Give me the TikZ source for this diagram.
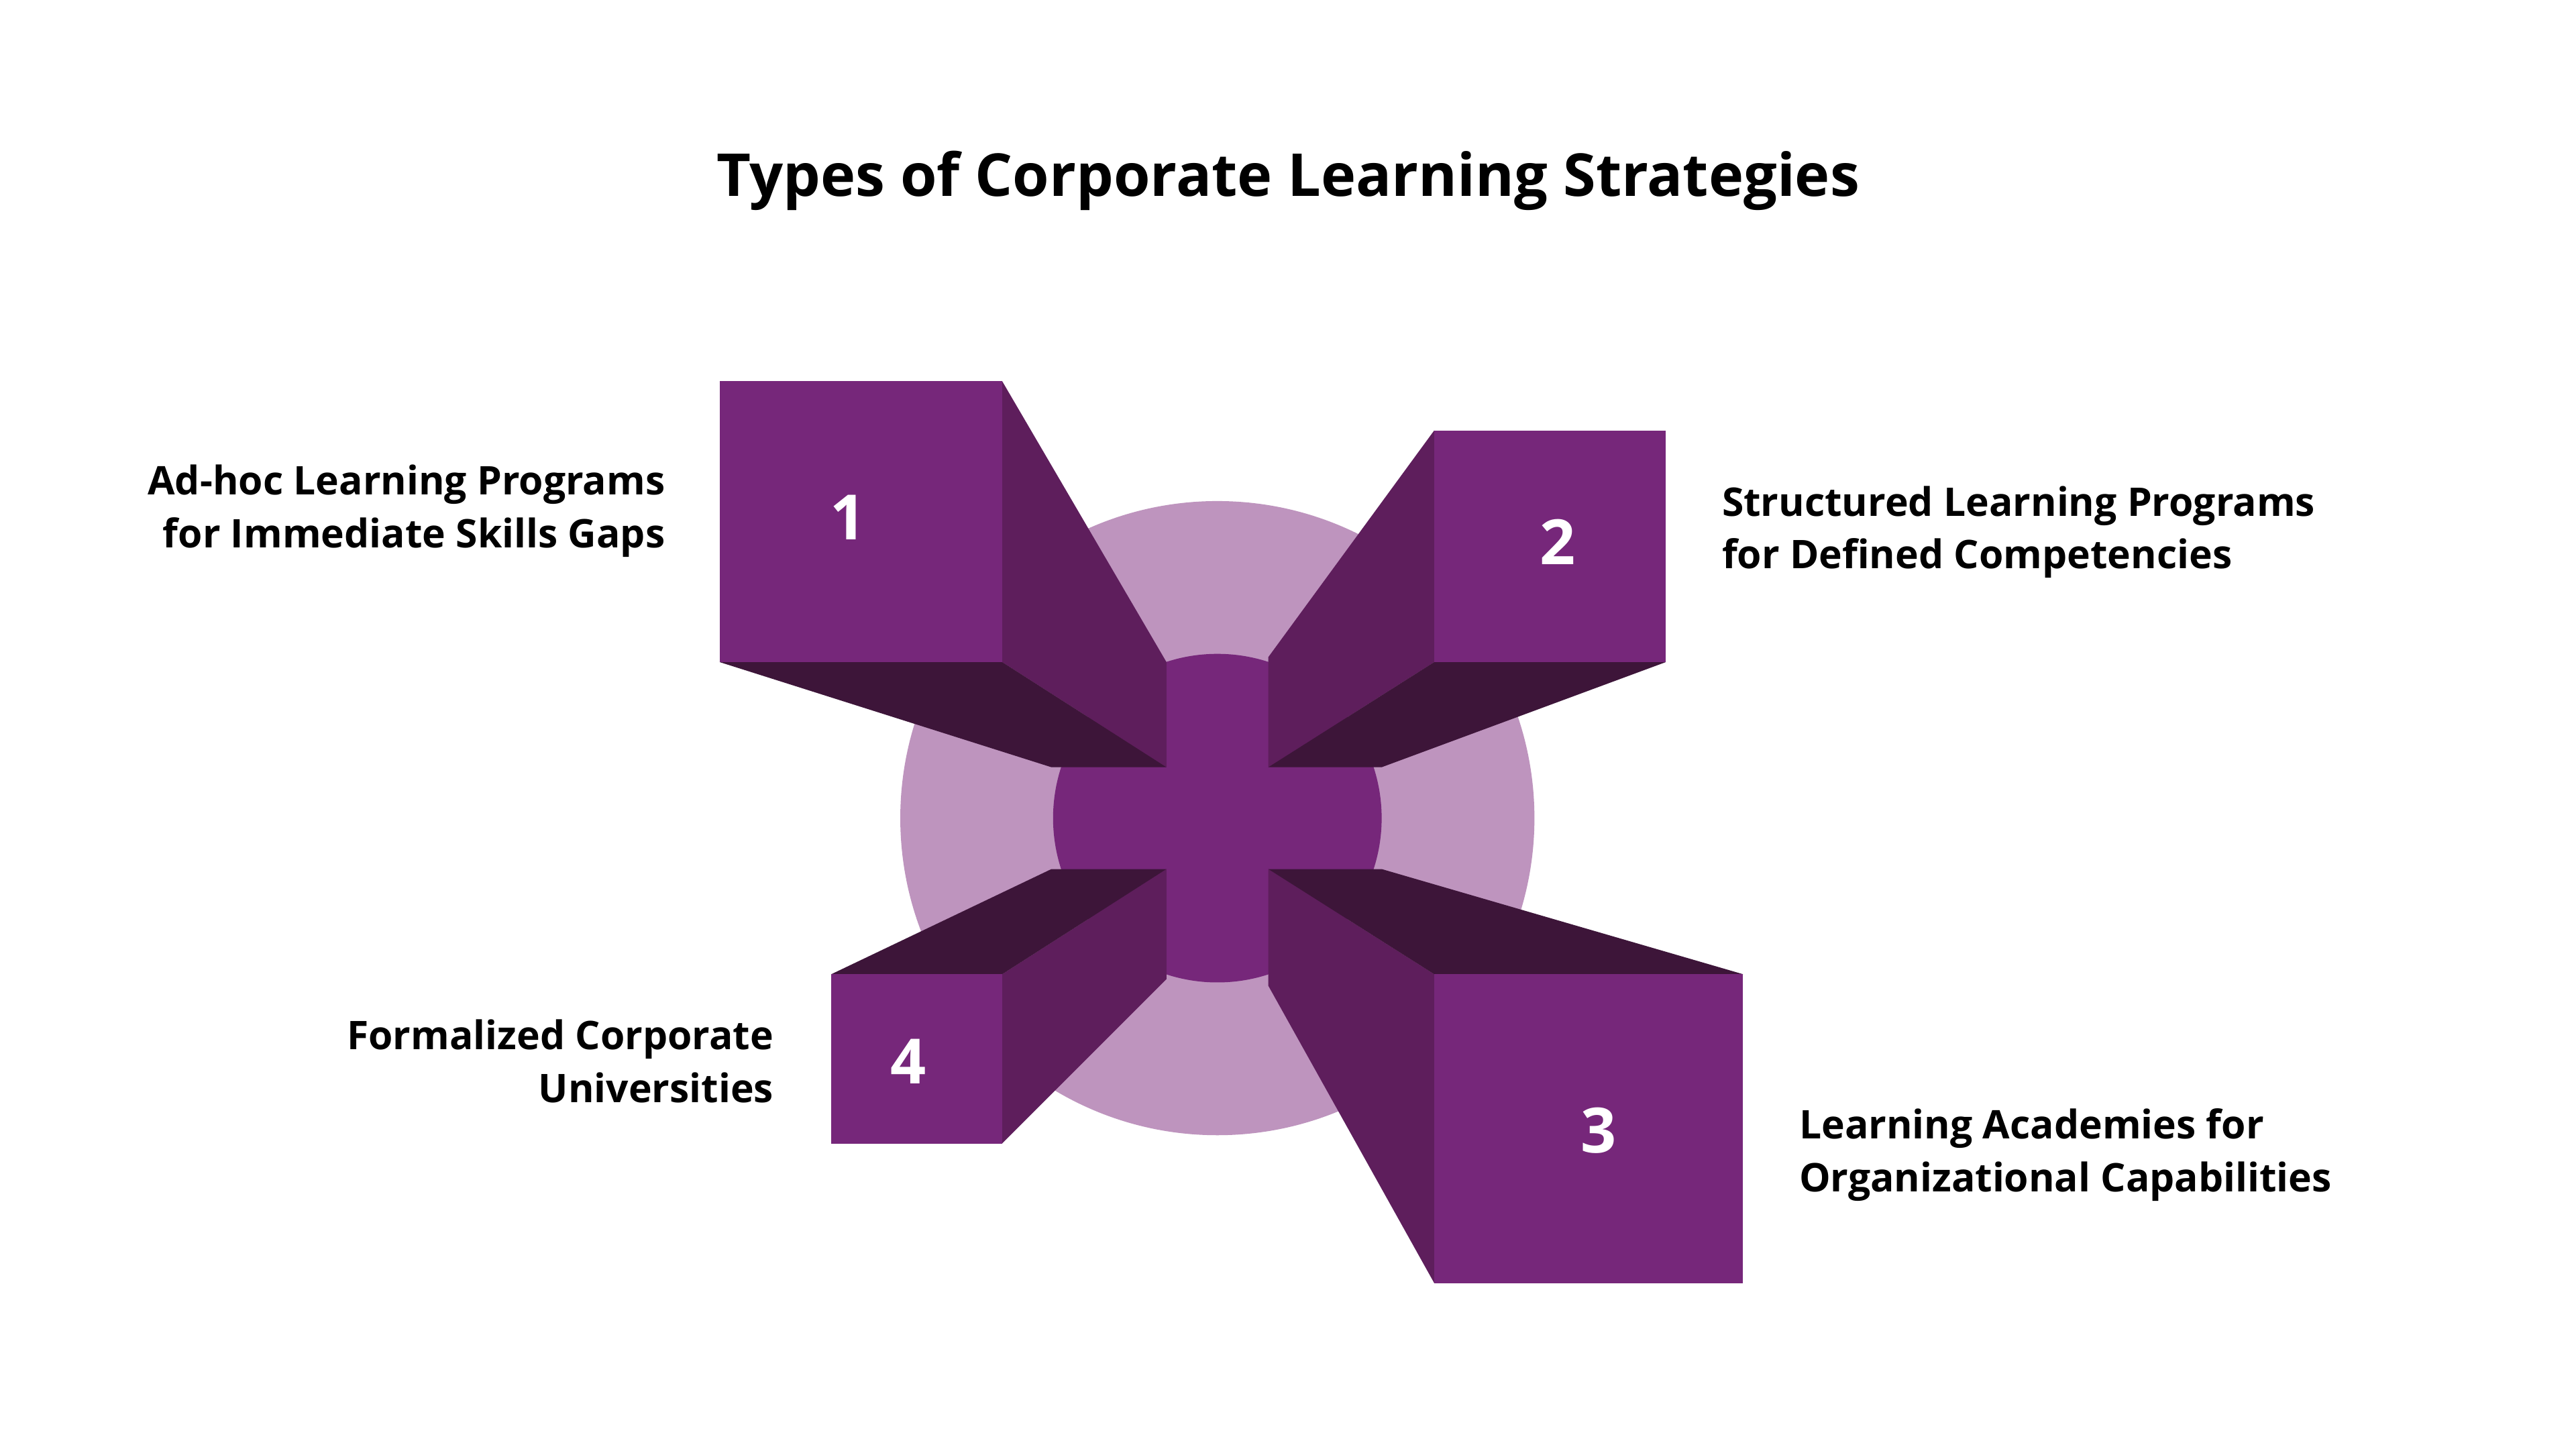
\documentclass[tikz,border=0pt]{standalone}
\usepackage{fontspec}
\setmainfont{Open Sans}
\definecolor{front}{HTML}{76277A}
\definecolor{side}{HTML}{5E1E5C}
\definecolor{deep}{HTML}{3D1539}
\definecolor{light}{HTML}{BE94BE}
\begin{document}
\begin{tikzpicture}[x=1pt,y=-1pt,
  lbl/.style={font=\fontsize{24}{32}\selectfont\bfseries,text=black,inner sep=0pt},
  num/.style={font=\fontsize{38}{40}\selectfont\bfseries,text=white}]
\useasboundingbox[fill=white] (0,0) rectangle (1568,882);
\node[font=\fontsize{36}{40}\selectfont\bfseries] (title) at (784,110) {Types of Corporate Learning Strategies};
\fill[light] (741,498) circle (193);
\fill[front] (741,498) circle (100);
% box 1
\fill[side] (610,232) -- (710,403) -- (710,467) -- (610,403) -- cycle;
\fill[deep] (438,403) -- (610,403) -- (710,467) -- (640,467) -- cycle;
\fill[front] (438,232) rectangle (610,403);
\node[num] (n1) at (516,315) {1};
% box 2
\fill[side] (873,262) -- (772,400) -- (772,467) -- (873,403) -- cycle;
\fill[deep] (873,403) -- (1014,403) -- (841,467) -- (772,467) -- cycle;
\fill[front] (873,262) rectangle (1014,403);
\node[num] (n2) at (948,330) {2};
% box 3
\fill[side] (873,593) -- (772,529) -- (772,600) -- (873,781) -- cycle;
\fill[deep] (772,529) -- (841,529) -- (1061,593) -- (873,593) -- cycle;
\fill[front] (873,593) rectangle (1061,781);
\node[num] (n3) at (973,688) {3};
% box 4
\fill[side] (610,593) -- (710,529) -- (710,596) -- (610,696) -- cycle;
\fill[deep] (506,593) -- (610,593) -- (710,529) -- (640,529) -- cycle;
\fill[front] (506,593) rectangle (610,696);
\node[num] (n4) at (553,646) {4};
% labels
\node[lbl,anchor=east,align=right] (l1) at (405,311) {Ad-hoc Learning Programs\\for Immediate Skills Gaps};
\node[lbl,anchor=west,align=left] (l2) at (1048,324) {Structured Learning Programs\\for Defined Competencies};
\node[lbl,anchor=west,align=left] (l3) at (1095,703) {Learning Academies for\\Organizational Capabilities};
\node[lbl,anchor=east,align=right] (l4) at (471,646) {Formalized Corporate\\Universities};
\end{tikzpicture}
\end{document}
